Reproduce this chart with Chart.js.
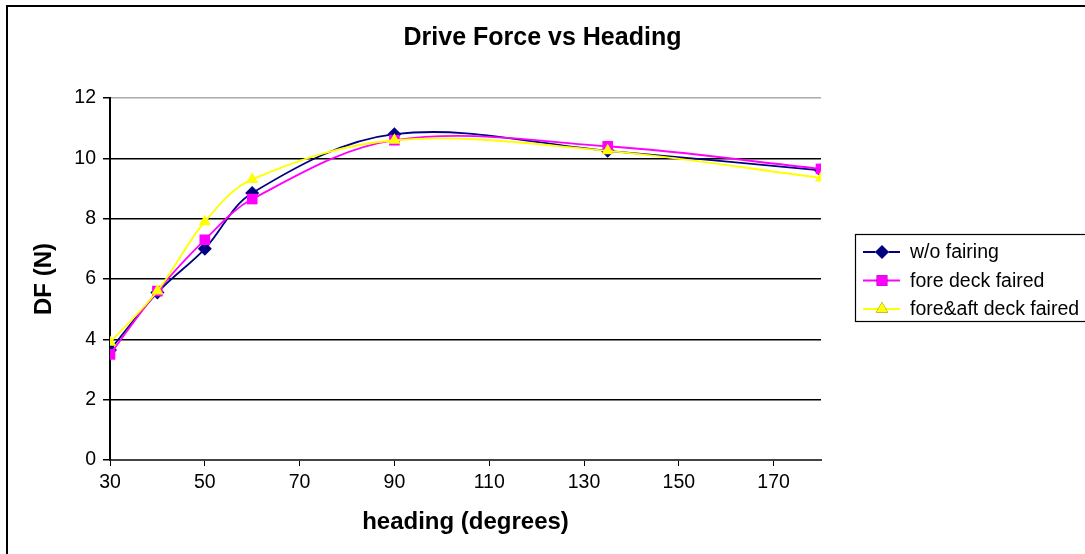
<!DOCTYPE html>
<html>
<head>
<meta charset="utf-8">
<script src="https://cdn.jsdelivr.net/npm/chart.js@4.4.1/dist/chart.umd.min.js"></script>
<style>
  html, body { margin: 0; padding: 0; background: #fff; }
  #wrap { width: 1085px; height: 554px; position: relative; }
</style>
</head>
<body>
<div id="wrap"><canvas id="dfChart" width="1085" height="554"></canvas></div>
<script>
// heading angles (degrees) and drive force readings (N)
var headings = [30, 40, 50, 60, 90, 135, 180];
var woFairing = [3.65, 5.55, 7.0, 8.85, 10.8, 10.25, 9.6];
var foreDeck = [3.5, 5.6, 7.3, 8.65, 10.6, 10.4, 9.65];
var foreAftDeck = [3.9, 5.6, 7.9, 9.3, 10.6, 10.25, 9.35];

var xTicks = [30, 50, 70, 90, 110, 130, 150, 170];
var yTicks = [0, 2, 4, 6, 8, 10, 12];

var seriesNames = ['w/o fairing', 'fore deck faired', 'fore&aft deck faired'];
var seriesColors = ['#000080', '#FF00FF', '#FFFF00'];
var seriesMarkers = ['rectRot', 'rect', 'triangle'];
var seriesSizes = [7, 7.5, 7];

var FONT = '"Liberation Sans", Arial, sans-serif';

function toPoints(vals) {
    var pts = [];
    for (var i = 0; i < headings.length; i++) {
        pts.push({x: headings[i], y: vals[i]});
    }
    return pts;
}

var allSeries = [woFairing, foreDeck, foreAftDeck];
var datasets = [];
for (var i = 0; i < allSeries.length; i++) {
    datasets.push({
        label: seriesNames[i],
        data: toPoints(allSeries[i]),
        borderColor: seriesColors[i],
        backgroundColor: seriesColors[i],
        borderWidth: 1.8,
        pointStyle: seriesMarkers[i],
        pointRadius: seriesSizes[i],
        pointBorderWidth: 0,
        tension: 0.35,
        order: 3 - i
    });
}

// outer frame + legend box on the right
var framePlugin = {
    id: 'frameAndLegend',
    beforeDraw: function(chart) {
        var ctx = chart.ctx;
        ctx.save();
        ctx.fillStyle = '#fff';
        ctx.fillRect(0, 0, chart.width, chart.height);
        ctx.strokeStyle = '#000';
        ctx.lineWidth = 2;
        ctx.strokeRect(7, 6, 1200, 700);
        ctx.restore();
    },
    afterDraw: function(chart) {
        var ctx = chart.ctx;
        ctx.save();
        ctx.fillStyle = '#fff';
        ctx.fillRect(855, 234, 240, 87);
        ctx.strokeStyle = '#000';
        ctx.lineWidth = 1.2;
        ctx.strokeRect(855.5, 234.5, 240, 87);
        ctx.font = '19.5px ' + FONT;
        ctx.textBaseline = 'middle';
        for (var i = 0; i < seriesNames.length; i++) {
            var y = 252 + i * 28.5;
            ctx.strokeStyle = seriesColors[i];
            ctx.lineWidth = 1.8;
            ctx.beginPath();
            ctx.moveTo(863, y);
            ctx.lineTo(900, y);
            ctx.stroke();
            Chart.helpers.drawPoint(ctx, {
                pointStyle: seriesMarkers[i],
                radius: seriesSizes[i],
                rotation: 0,
                borderWidth: 0
            }, 882, y);
            ctx.fillStyle = seriesColors[i];
            ctx.fill();
            ctx.fillStyle = '#000';
            ctx.fillText(seriesNames[i], 910, y + 1);
        }
        ctx.restore();
    }
};

var ctx = document.getElementById('dfChart');
var myChart = new Chart(ctx, {
    type: 'line',
    data: { datasets: datasets },
    options: {
        responsive: false,
        animation: false,
        layout: { padding: { top: 0, right: 0, bottom: 10, left: 0 } },
        plugins: {
            legend: { display: false },
            tooltip: { enabled: false },
            title: {
                display: true,
                text: 'Drive Force vs Heading',
                color: '#000',
                font: { family: FONT, size: 25, weight: 'bold' },
                padding: { top: 23, bottom: 45 }
            }
        },
        scales: {
            x: {
                type: 'linear',
                min: 30,
                max: 180,
                border: { color: '#444', width: 2 },
                grid: { drawOnChartArea: false, drawTicks: true, tickLength: 6, color: '#000' },
                ticks: {
                    color: '#000',
                    padding: 5,
                    maxRotation: 0,
                    font: { family: FONT, size: 19.5 }
                },
                afterBuildTicks: function(scale) {
                    scale.ticks = xTicks.map(function(v) { return {value: v}; });
                },
                title: {
                    display: true,
                    text: 'heading (degrees)',
                    color: '#000',
                    font: { family: FONT, size: 24, weight: 'bold' },
                    padding: { top: 4, bottom: 7 }
                },
                afterFit: function(scale) { scale.height = 84; }
            },
            y: {
                min: 0,
                max: 12,
                border: { color: '#000', width: 2 },
                grid: {
                    color: function(c) { return c.tick && c.tick.value === 12 ? '#aaa' : '#000'; },
                    lineWidth: 1.5,
                    tickLength: 7,
                    tickColor: '#000'
                },
                ticks: {
                    color: '#000',
                    padding: 7,
                    font: { family: FONT, size: 19.5 }
                },
                afterBuildTicks: function(scale) {
                    scale.ticks = yTicks.map(function(v) { return {value: v}; });
                },
                title: {
                    display: true,
                    text: 'DF (N)',
                    color: '#000',
                    font: { family: FONT, size: 24, weight: 'bold' },
                    padding: { top: 30, bottom: 0 }
                },
                afterFit: function(scale) { scale.width = 110; }
            },
            // empty right-hand strip that leaves room for the legend box
            legendSpace: {
                position: 'right',
                min: 0,
                max: 1,
                grid: { display: false },
                border: { display: false },
                ticks: { display: false },
                afterFit: function(scale) { scale.width = 264; }
            }
        }
    },
    plugins: [framePlugin]
});
</script>
</body>
</html>
